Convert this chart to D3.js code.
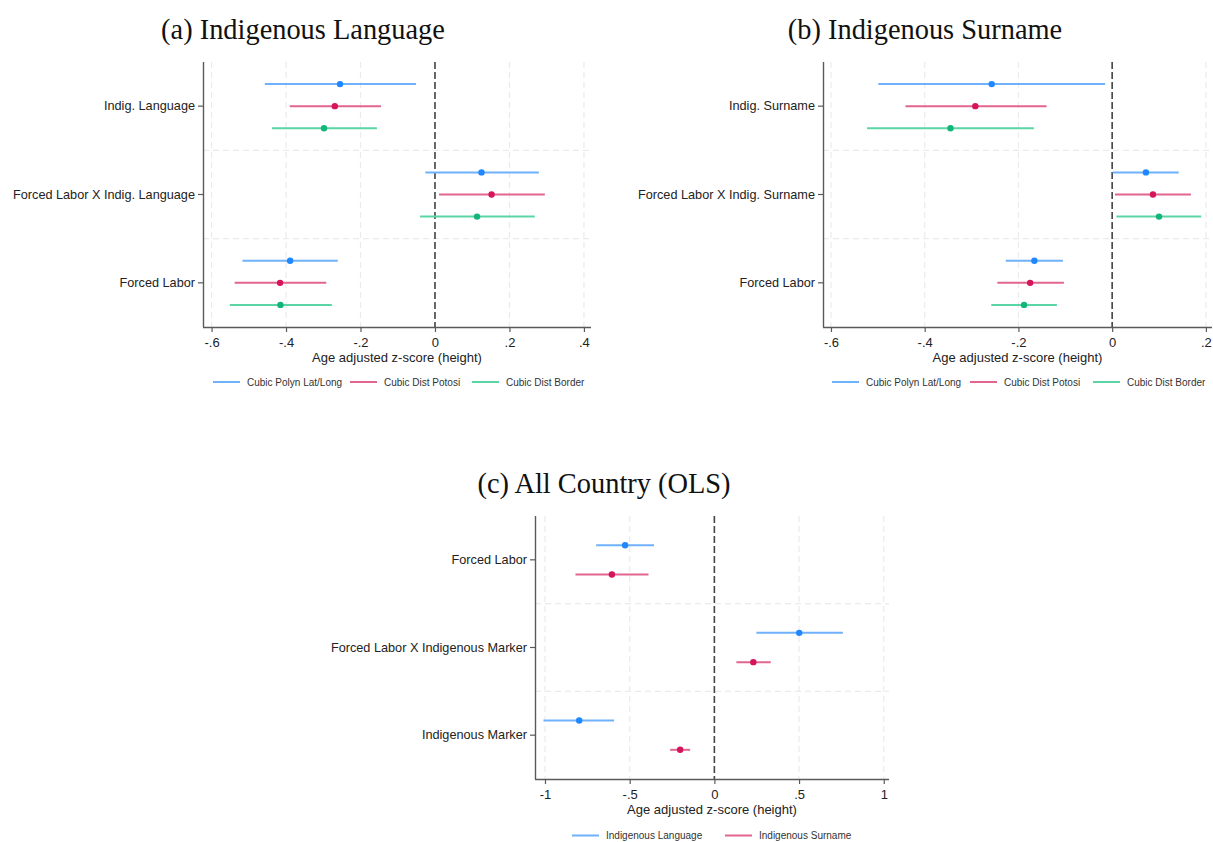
<!DOCTYPE html>
<html>
<head>
<meta charset="utf-8">
<script src="https://cdn.jsdelivr.net/npm/d3@7"></script>
<style>
  html, body { margin: 0; padding: 0; background: #fff; }
  svg { display: block; }
</style>
</head>
<body>
<svg id="chart" width="1213" height="842"></svg>
<script>
// ---- Panel (a): Indigenous Language ----
const catsA = ["Indig. Language", "Forced Labor X Indig. Language", "Forced Labor"];
const seriesA = ["Cubic Polyn Lat/Long", "Cubic Dist Potosi", "Cubic Dist Border"];
const coefA = [[-0.255, 0.125, -0.389], [-0.269, 0.152, -0.416], [-0.298, 0.113, -0.415]];
const lowA  = [[-0.457, -0.026, -0.517], [-0.390, 0.011, -0.538], [-0.438, -0.040, -0.551]];
const highA = [[-0.051, 0.279, -0.261], [-0.145, 0.295, -0.292], [-0.156, 0.268, -0.277]];
const ticksA = [-0.6, -0.4, -0.2, 0, 0.2, 0.4];

// ---- Panel (b): Indigenous Surname ----
const catsB = ["Indig. Surname", "Forced Labor X Indig. Surname", "Forced Labor"];
const seriesB = ["Cubic Polyn Lat/Long", "Cubic Dist Potosi", "Cubic Dist Border"];
const coefB = [[-0.257, 0.072, -0.166], [-0.292, 0.087, -0.175], [-0.345, 0.100, -0.188]];
const lowB  = [[-0.499, 0.001, -0.227], [-0.441, 0.006, -0.245], [-0.523, 0.009, -0.258]];
const highB = [[-0.015, 0.142, -0.105], [-0.140, 0.168, -0.103], [-0.167, 0.190, -0.118]];
const ticksB = [-0.6, -0.4, -0.2, 0, 0.2];

// ---- Panel (c): All Country (OLS) ----
const catsC = ["Forced Labor", "Forced Labor X Indigenous Marker", "Indigenous Marker"];
const seriesC = ["Indigenous Language", "Indigenous Surname"];
const coefC = [[-0.527, 0.501, -0.798], [-0.605, 0.230, -0.202]];
const lowC  = [[-0.698, 0.248, -1.009], [-0.820, 0.130, -0.261]];
const highC = [[-0.356, 0.759, -0.592], [-0.389, 0.333, -0.143]];
const ticksC = [-1, -0.5, 0, 0.5, 1];

const xTitle = "Age adjusted z-score (height)";
const dotColors  = ["#1f87ff", "#d6145c", "#12b57a"];
const lineColors = ["#6fb1fb", "#e2658f", "#5ad5a4"];

const svg = d3.select("#chart");

// Stata-style tick label: plain hyphen, no leading zero ("-.6", ".2", "0", "1")
const fmtTick = v => {
  if (v === 0) return "0";
  const s = String(+v.toFixed(2));
  return s.replace(/^(-?)0\./, "$1.");
};

function drawPanel(cfg) {
  const g = svg.append("g");
  const x = d3.scaleLinear().domain(cfg.domain).range([cfg.left, cfg.right]);
  const y = d3.scaleBand().domain(cfg.cats).range([cfg.top, cfg.bottom]);
  const bw = y.bandwidth();
  const off = d3.scalePoint().domain(cfg.series).range([-cfg.spread * bw, cfg.spread * bw]);

  // vertical grid
  g.selectAll("line.vgrid").data(cfg.ticks).join("line")
    .attr("x1", d => x(d)).attr("x2", d => x(d))
    .attr("y1", cfg.top).attr("y2", cfg.bottom)
    .attr("stroke", "#ebebeb").attr("stroke-width", 1.2)
    .attr("stroke-dasharray", "6,4");

  // horizontal separators between coefficient groups
  g.selectAll("line.hsep").data(cfg.cats.slice(1)).join("line")
    .attr("x1", cfg.left).attr("x2", cfg.right)
    .attr("y1", d => y(d)).attr("y2", d => y(d))
    .attr("stroke", "#ebebeb").attr("stroke-width", 1.2)
    .attr("stroke-dasharray", "6,4");

  // zero reference line
  g.append("line")
    .attr("x1", x(0)).attr("x2", x(0))
    .attr("y1", cfg.top).attr("y2", cfg.bottom)
    .attr("stroke", "#454545").attr("stroke-width", 1.6)
    .attr("stroke-dasharray", "7,3");

  // confidence intervals and point estimates
  cfg.series.forEach((s, si) => {
    const rows = cfg.cats.map((c, ci) => ({
      cat: c, est: cfg.coef[si][ci], lo: cfg.low[si][ci], hi: cfg.high[si][ci]
    }));
    const yy = d => y(d.cat) + bw / 2 + off(s);
    g.selectAll(null).data(rows).join("line")
      .attr("x1", d => x(d.lo)).attr("x2", d => x(d.hi))
      .attr("y1", yy).attr("y2", yy)
      .attr("stroke", lineColors[si]).attr("stroke-width", 2);
    g.selectAll(null).data(rows).join("circle")
      .attr("cx", d => x(d.est)).attr("cy", yy).attr("r", 3.2)
      .attr("fill", dotColors[si]);
  });

  // x axis
  const xAxis = d3.axisBottom(x).tickValues(cfg.ticks).tickFormat(fmtTick)
    .tickSize(5).tickSizeOuter(0);
  const gx = g.append("g").attr("transform", `translate(0,${cfg.bottom})`).call(xAxis);
  gx.select(".domain").attr("d", `M${cfg.left},0.5H${cfg.right}`)
    .attr("stroke", "#5a5a5a").attr("stroke-width", 1.4);
  gx.selectAll(".tick line").attr("stroke", "#5a5a5a").attr("stroke-width", 1.2);
  gx.selectAll(".tick text").attr("font-family", "Liberation Sans, Arial, sans-serif")
    .attr("font-size", 13).attr("fill", "#222").attr("dy", "0.95em");

  // y axis
  const yAxis = d3.axisLeft(y).tickSize(5).tickSizeOuter(0).tickPadding(3);
  const gy = g.append("g").attr("transform", `translate(${cfg.left},0)`).call(yAxis);
  gy.select(".domain").attr("d", `M0.5,${cfg.top}V${cfg.bottom}`)
    .attr("stroke", "#5a5a5a").attr("stroke-width", 1.4);
  gy.selectAll(".tick line").attr("stroke", "#5a5a5a").attr("stroke-width", 1.2);
  gy.selectAll(".tick text").attr("font-family", "Liberation Sans, Arial, sans-serif")
    .attr("font-size", 12.7).attr("fill", "#222");

  // axis title
  g.append("text")
    .attr("x", (cfg.left + cfg.right) / 2).attr("y", cfg.bottom + 35)
    .attr("text-anchor", "middle")
    .attr("font-family", "Liberation Sans, Arial, sans-serif")
    .attr("font-size", 13).attr("fill", "#222")
    .text(xTitle);

  // panel title
  g.append("text")
    .attr("x", cfg.titleX).attr("y", cfg.titleY)
    .attr("text-anchor", "middle")
    .attr("font-family", "Liberation Serif, Times New Roman, serif")
    .attr("font-size", 28.4).attr("fill", "#111")
    .text(cfg.title);

  // legend
  const lg = g.append("g");
  cfg.series.forEach((s, si) => {
    const lx = cfg.legendX[si];
    lg.append("line")
      .attr("x1", lx).attr("x2", lx + 27)
      .attr("y1", cfg.legendY).attr("y2", cfg.legendY)
      .attr("stroke", lineColors[si]).attr("stroke-width", 2);
    lg.append("text")
      .attr("x", lx + 34).attr("y", cfg.legendY + 3.5)
      .attr("font-family", "Liberation Sans, Arial, sans-serif")
      .attr("font-size", 10).attr("fill", "#333")
      .text(s);
  });
}

drawPanel({
  cats: catsA, series: seriesA, coef: coefA, low: lowA, high: highA, ticks: ticksA,
  domain: [-0.623, 0.419], left: 203, right: 591, top: 62, bottom: 327, spread: 0.25,
  title: "(a) Indigenous Language", titleX: 303, titleY: 39,
  legendX: [213, 350, 472], legendY: 382
});

drawPanel({
  cats: catsB, series: seriesB, coef: coefB, low: lowB, high: highB, ticks: ticksB,
  domain: [-0.617, 0.213], left: 823, right: 1212, top: 62, bottom: 327, spread: 0.25,
  title: "(b) Indigenous Surname", titleX: 925, titleY: 39,
  legendX: [832, 970, 1093], legendY: 382
});

drawPanel({
  cats: catsC, series: seriesC, coef: coefC, low: lowC, high: highC, ticks: ticksC,
  domain: [-1.059, 1.031], left: 535, right: 889, top: 516, bottom: 779, spread: 0.167,
  title: "(c) All Country (OLS)", titleX: 604, titleY: 493,
  legendX: [572, 725], legendY: 835.5
});
</script>
</body>
</html>
